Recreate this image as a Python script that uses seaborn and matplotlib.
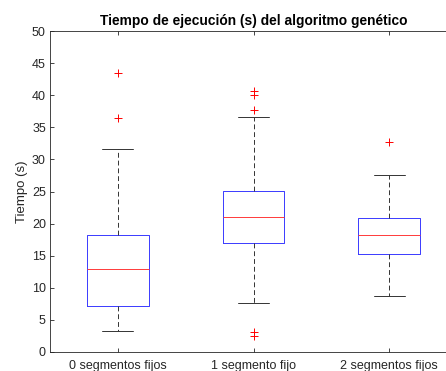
import numpy as np
import pandas as pd
import matplotlib
matplotlib.use("Agg")
import matplotlib.pyplot as plt
import matplotlib.colors as mcolors
import seaborn as sns

# Summary values
grupos = ["0 segmentos fijos", "1 segmento fijo", "2 segmentos fijos"]
bigote_inf = [3.3, 7.7, 8.7]
cuartil_1 = [7.2, 17.0, 15.3]
mediana = [13.0, 21.0, 18.3]
cuartil_3 = [18.3, 25.1, 20.9]
bigote_sup = [31.6, 36.6, 27.6]
atipicos_inf = [[], [2.5, 3.1], []]
atipicos_sup = [[36.4, 43.5], [37.7, 40.0, 40.6], [32.7]]
yticks = [0, 5, 10, 15, 20, 25, 30, 35, 40, 45, 50]

# Build a 21-point sample per group that reproduces these statistics exactly
rows = []
for g, lo, q1, md, q3, hi, ol, oh in zip(grupos, bigote_inf, cuartil_1, mediana,
                                         cuartil_3, bigote_sup, atipicos_inf, atipicos_sup):
    vals = list(ol) + [lo] * (5 - len(ol)) + [q1] + [md] * 5 + [q3] * 5 + [hi] * (5 - len(oh)) + list(oh)
    rows += [(g, v) for v in vals]
df = pd.DataFrame(rows, columns=["grupo", "tiempo"])

sns.set_style("ticks")
plt.rcParams["font.family"] = ["Liberation Sans", "DejaVu Sans"]

W, H = 446, 371
fig = plt.figure(figsize=(W / 100, H / 100), dpi=100)
ax = fig.add_axes([50 / W, 1 - 352 / H, 407 / W, 321 / H])

axis_col = "#262626"
box_col = "#3a3aff"
med_col = "#ff3a3a"
wh_col = "#333333"
sns.boxplot(data=df, x="grupo", y="tiempo", order=grupos, ax=ax, fill=False,
            width=0.455, whis=1.5,
            boxprops=dict(color=box_col),
            medianprops=dict(color=med_col),
            whiskerprops=dict(color=wh_col, linestyle=(0, (5, 3))),
            capprops=dict(color=wh_col),
            flierprops=dict(marker="+", markeredgecolor="#ff0000",
                            markersize=6, markeredgewidth=0.7))

# thin MATLAB-like strokes; make sure the median lines are red
for c in ax.containers:
    for ln in getattr(c, "medians", []) or []:
        ln.set_color(med_col)
        ln.set_zorder(5)
for ln in ax.lines:
    ln.set_linewidth(0.7)
    xd = np.asarray(ln.get_xdata(), dtype=float)
    yd = np.asarray(ln.get_ydata(), dtype=float)
    if len(yd) == 2 and np.isclose(yd[0], yd[1]) and abs(xd[1] - xd[0]) > 0.3:
        ln.set_color(med_col)
        ln.set_zorder(5)

ax.set_xlim(-0.5, 2.5)
ax.set_ylim(0, 50)
ax.set_yticks(yticks)
ax.set_title("Tiempo de ejecución (s) del algoritmo genético", fontsize=9.9,
             fontweight="bold", color="black", pad=4)
ax.set_ylabel("Tiempo (s)", fontsize=9.5, color=axis_col, labelpad=3)
ax.set_xlabel("")
ax.tick_params(axis="both", direction="in", length=3, width=0.6, colors=axis_col,
               labelsize=9.0, top=True, right=True, pad=3)
ax.tick_params(axis="x", pad=6)
for s in ax.spines.values():
    s.set_color(axis_col)
    s.set_linewidth(0.6)

fig.savefig("out.png", dpi=100)
